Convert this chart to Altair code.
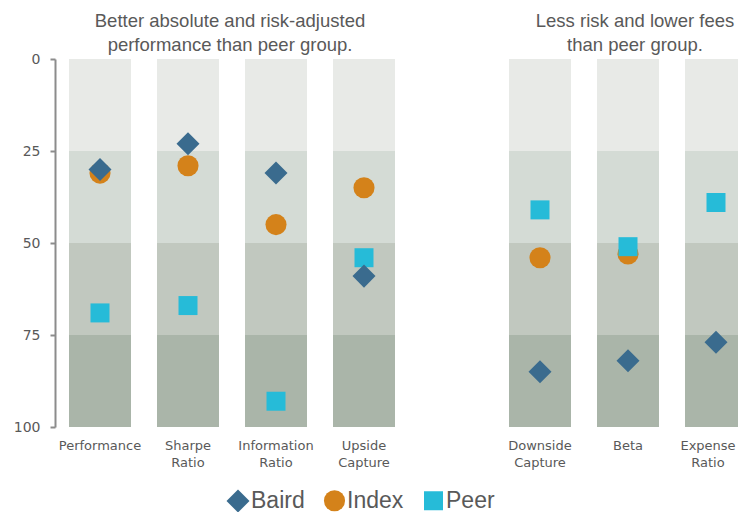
import altair as alt
import pandas as pd

categories = ["Performance", "Sharpe Ratio", "Information Ratio", "Upside Capture",
              "Downside Capture", "Beta", "Expense Ratio"]
slots = ["Performance", "Sharpe Ratio", "Information Ratio", "Upside Capture", "_gap",
         "Downside Capture", "Beta", "Expense Ratio"]
band_edges = [0, 25, 50, 75, 100]
band_colors = ["#E8EAE7", "#D4DBD5", "#C1C8BF", "#AAB5A9"]

series = ["Baird", "Index", "Peer"]
series_colors = ["#3A6B8E", "#D4821A", "#26BBD8"]
series_shapes = ["diamond", "circle", "square"]
series_sizes = [530, 361, 361]

baird = [30, 23, 31, 59, 85, 82, 77]
index = [31, 29, 45, 35, 54, 53, None]
peer = [69, 67, 93, 54, 41, 51, 39]

title_left = ["Better absolute and risk-adjusted", "performance than peer group."]
title_right = ["Less risk and lower fees", "than peer group."]

bg_rows = []
for c in categories:
    for i in range(4):
        bg_rows.append({"cat": c, "y0": band_edges[i], "y1": band_edges[i + 1],
                        "fill": band_colors[i]})
bg = pd.DataFrame(bg_rows)

pt_rows = []
for name, vals in [("Index", index), ("Peer", peer), ("Baird", baird)]:
    for c, v in zip(categories, vals):
        if v is not None:
            pt_rows.append({"cat": c, "value": v, "series": name})
pts = pd.DataFrame(pt_rows)

xscale = alt.Scale(domain=slots, paddingInner=0.2955, paddingOuter=0, range=[14, 692])
xaxis = alt.Axis(title=None, labelAngle=0, domain=False, ticks=False,
                 labelExpr="datum.label == '_gap' ? '' : split(datum.label, ' ')",
                 labelFont="DejaVu Sans", labelFontSize=13, labelColor="#595959",
                 labelPadding=12, labelLineHeight=17, labelBaseline="top",
                 labelOffset={"condition": {"test": "datum.label == 'Expense Ratio'",
                                            "value": -8}, "value": 0})
yscale = alt.Scale(domain=[0, 100], reverse=True, nice=False, zero=False)
yaxis = alt.Axis(values=[0, 25, 50, 75, 100], title=None, grid=False,
                 domainColor="#8C8C8C", domainWidth=2, tickColor="#8C8C8C",
                 tickWidth=2, tickSize=5, labelFont="DejaVu Sans", labelFontSize=14,
                 labelColor="#595959", labelPadding=10, labelFlush=False)

rects = alt.Chart(bg).mark_rect().encode(
    x=alt.X("cat:N", scale=xscale, axis=xaxis),
    y=alt.Y("y0:Q", scale=yscale, axis=yaxis),
    y2="y1:Q",
    fill=alt.Fill("fill:N", scale=None),
)

leg = alt.Legend(orient="none", legendX=171, legendY=430, direction="horizontal",
                 title=None, symbolSize=484, labelFontSize=23,
                 labelFont="Liberation Sans", labelColor="#595959", labelOffset=1,
                 columnPadding=18, symbolStrokeWidth=0, padding=0)

points = alt.Chart(pts).mark_point(filled=True, opacity=1, strokeWidth=0).encode(
    x=alt.X("cat:N", scale=xscale, axis=xaxis),
    y=alt.Y("value:Q", scale=yscale, axis=yaxis),
    color=alt.Color("series:N", scale=alt.Scale(domain=series, range=series_colors),
                    legend=leg),
    shape=alt.Shape("series:N", scale=alt.Scale(domain=series, range=series_shapes),
                    legend=leg),
    size=alt.Size("series:N", scale=alt.Scale(domain=series, range=series_sizes),
                  legend=None),
)

t1 = alt.Chart(alt.Data(values=[{"a": 1}])).mark_text(
    text=title_left, align="center", baseline="alphabetic", font="Liberation Sans",
    fontSize=18.5, color="#595959", lineHeight=24
).encode(x=alt.value(175), y=alt.value(-32))

t2 = alt.Chart(alt.Data(values=[{"a": 1}])).mark_text(
    text=title_right, align="center", baseline="alphabetic", font="Liberation Sans",
    fontSize=18.5, color="#595959", lineHeight=24
).encode(x=alt.value(580), y=alt.value(-32))

chart = alt.layer(rects, points, t1, t2).properties(
    width=683, height=368,
    autosize=alt.AutoSizeParams(type="none"),
    padding={"left": 47, "top": 51, "right": 0, "bottom": 85},
).configure_view(strokeWidth=0)

chart.save("out.html", embed_options={"renderer": "svg", "actions": False})
